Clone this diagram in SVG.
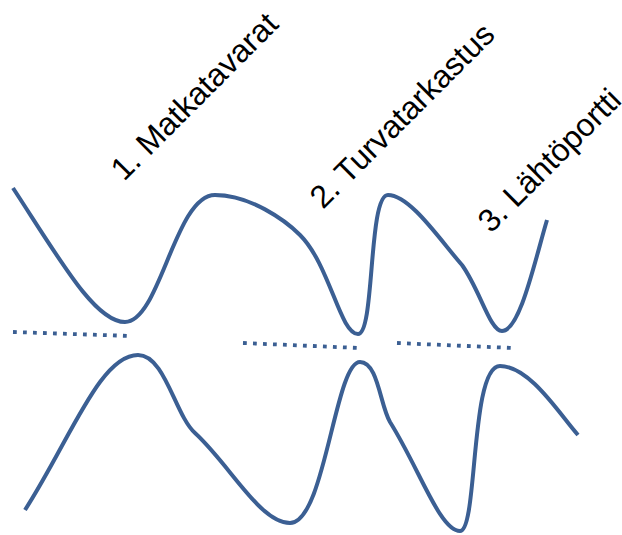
<svg xmlns="http://www.w3.org/2000/svg" width="622" height="535" viewBox="0 0 622 535">
<style>
.curve{fill:none;stroke:#3B5F93;stroke-width:4;stroke-linecap:butt;stroke-linejoin:round}
.dots{fill:none;stroke:#3B5F93;stroke-width:3.8;stroke-dasharray:3.8 6.2}
.lbl{font-family:"Liberation Sans",Arial,sans-serif;font-size:32px;fill:#000}
</style>
<rect width="622" height="535" fill="#fff"/>
<g id="connectors">
<path id="top-curve" class="curve" d="M13,188 C60,260 95,322 125,322 C160,322 175,195 215,195 C250,195 285,220 300,235 C330,265 340,334 358,334 C375,334 368,195 388,195 C410,195 440,240 462,265 C480,290 490,331 502,331 C520,331 535,260 547,220"/>
<path id="bottom-curve" class="curve" d="M25,510 C70,440 100,355 138,355 C165,355 175,415 195,433 C230,465 260,523 290,523 C325,523 335,362 360,362 C378,362 380,405 390,422 C420,470 440,531 460,531 C478,531 470,366 500,366 C530,366 560,415 578,435"/>
<path id="dots1" class="dots" d="M13,332 L131,336"/>
<path id="dots2" class="dots" d="M243,343 L359,348"/>
<path id="dots3" class="dots" d="M397,343 L513,348"/>
</g>
<g id="label1"><text class="lbl" transform="translate(124,182) rotate(-45)">1. Matkatavarat</text></g>
<g id="label2"><text class="lbl" transform="translate(323,210) rotate(-45)">2. Turvatarkastus</text></g>
<g id="label3"><text class="lbl" transform="translate(491,234) rotate(-45)">3. Lähtöportti</text></g>
</svg>
